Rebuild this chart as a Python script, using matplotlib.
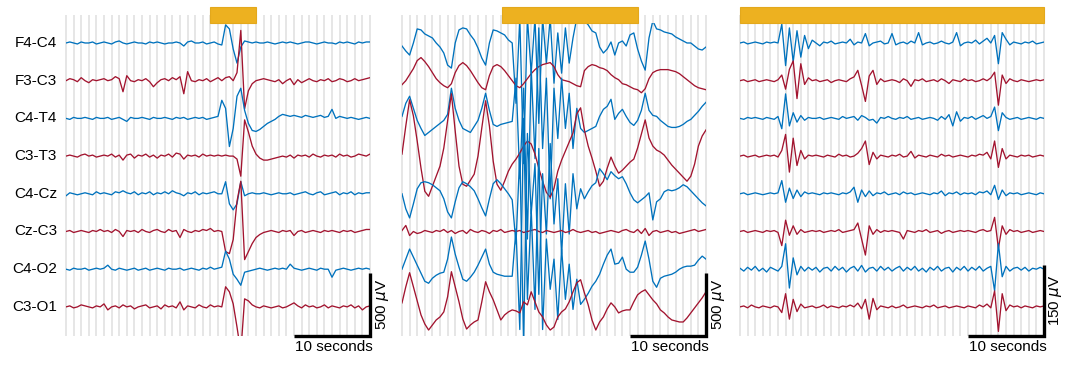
import numpy as np
import matplotlib.pyplot as plt
from matplotlib.patches import Rectangle

plt.rcParams['font.family'] = ['Liberation Sans', 'DejaVu Sans']

channels = ['F4-C4', 'F3-C3', 'C4-T4', 'C3-T3', 'C4-Cz', 'Cz-C3', 'C4-O2', 'C3-O1']
dt = 0.5  # seconds between samples, 40 s per panel

# ---- panel 1 (uV) ----
p1_f4c4 = [0, 8, 0, -8, 8, 0, 0, 8, -8, 0,
           8, 0, -8, 8, 16, 0, -8, 0, 8, 0,
           0, -8, 8, 0, 8, 0, -8, 0, 0, 8,
           0, -24, 8, 16, 0, 0, 8, -8, 0, 8,
           -8, -16, 144, 112, -48, -160, -32, 16, 8, 0,
           8, 0, 0, 8, 0, -8, 0, 8, 0, 8,
           0, -8, 0, 8, 8, 0, -8, 0, 8, 0,
           0, -8, 8, 0, 8, 0, -8, 8, 0, 8,
           8]
p1_f3c3 = [0, 16, 8, -8, 24, 0, -16, 8, 0, 8,
           16, 0, 8, 32, 16, -88, 40, 0, -8, 8,
           0, 16, -8, -48, -16, 8, 16, 0, 24, 8,
           32, -104, 72, 0, -8, 8, 0, 16, -8, 8,
           24, 0, 24, 32, 0, 64, 400, -224, -80, -24,
           0, 8, 16, 8, 0, -8, 8, -24, 0, 16,
           -32, 8, -16, 0, 16, 0, -8, 8, 0, 16,
           -8, 0, 16, 8, -8, 0, 16, 0, 8, 16,
           24]
p1_c4t4 = [0, -8, 8, 0, 0, 8, 0, -8, 8, 0,
           0, 8, -8, 0, 8, -8, -24, 8, 0, 0,
           8, 0, -8, 8, 0, 0, 8, 0, -8, 8,
           0, 8, -8, 0, 8, 0, 8, -8, 0, 8,
           16, 144, 80, -224, -80, 176, 240, 64, -40, -96,
           -104, -88, -64, -40, -24, -8, 16, 32, 24, 16,
           24, 16, 8, 24, 16, 8, 16, 24, 8, 16,
           72, 0, 16, 8, 0, 8, 0, -8, 0, 8,
           0]
p1_c3t3 = [0, 8, 0, -8, 8, 16, 0, 8, -8, 0,
           8, 0, 16, -8, 8, -32, 8, 16, -16, 8,
           0, 16, -8, 8, -16, 8, 0, 16, -8, 24,
           16, -24, 8, 0, 8, -8, 16, 0, 8, 0,
           8, 0, 8, 0, 0, -24, -160, 288, 192, 80,
           16, -16, -32, -32, -24, -16, -8, 0, -8, 8,
           -16, 8, 0, 8, -8, 16, 0, -8, 8, 0,
           8, -8, 16, 0, 8, -8, 0, 16, 8, 0,
           16]
p1_c4cz = [-16, 8, 0, -8, 0, 8, 0, -8, 16, 0,
           8, 0, -8, 16, 8, 24, 8, 0, 16, -8,
           8, 0, 16, -8, 8, 0, 16, 0, 24, 8,
           0, -16, 8, 0, 16, -8, 8, 0, 8, 16,
           0, 0, 96, -80, -128, -80, 96, -16, 0, 8,
           0, 0, 8, 0, -8, 0, 8, 0, 0, 8,
           -8, 0, 8, 16, 0, -8, 8, 16, -8, 0,
           8, 16, -8, 8, 0, 16, -8, 8, 0, 8,
           8]
p1_czc3 = [0, 8, -8, 0, 8, 0, -8, 8, 0, 16,
           0, 8, -8, 16, 0, -40, 8, 0, 8, -8,
           16, 0, -8, 8, 16, 0, -8, 16, 0, 8,
           -48, 16, 0, -8, 8, 0, 16, 8, 24, 0,
           8, 0, -160, -176, -64, 240, 400, -224, -160, -96,
           -48, -24, -8, 0, 8, 0, -8, 8, 0, 8,
           -32, 0, 8, -8, 0, 8, 0, -8, 8, 0,
           8, 0, -8, 8, 0, 8, -8, 0, 8, 16,
           16]
p1_c4o2 = [0, -8, 8, 0, 0, 8, -8, 0, 8, 0,
           8, 32, 0, -8, 8, 0, -8, 0, 8, -8,
           0, 8, -8, 0, 8, 0, -8, 8, 0, 0,
           8, -8, 0, 8, 0, -8, 8, 0, 16, 0,
           8, 16, 144, 80, -40, -80, -128, -24, -16, -8,
           0, 8, 0, -8, 0, 8, 0, 8, 0, 40,
           8, 0, -8, 0, 8, 0, -8, 8, 0, 0,
           -64, -8, 0, 8, 0, -8, 0, 8, 0, 8,
           0]
p1_c3o1 = [0, 8, -8, 0, 16, 8, 0, -8, 8, 0,
           24, -24, 0, 8, -8, 16, 0, 8, -16, 0,
           8, 16, -8, 0, 8, -16, 16, 0, 8, -8,
           40, -24, 8, 0, -8, 16, 0, -8, 16, 0,
           8, 0, 160, 120, 24, -160, -360, 64, 48, 16,
           0, -8, 8, 0, -8, 0, 8, -8, 0, 16,
           32, 8, -8, 16, 0, 8, -8, 0, 16, -8,
           8, 0, -8, 8, 0, 16, -8, 8, -24, 0,
           8]

# ---- panel 2 (uV) ----
p2_f4c4 = [-24, -64, -96, 0, 112, 104, 72, 56, 40, 0,
           -32, -80, -176, -200, 0, 104, 120, 112, 64, 24,
           -40, -120, -176, 0, 104, 96, 80, 64, 24, 0,
           -480, 200, -960, 200, -240, 200, -640, 200, -160, 200,
           -320, 80, -240, 120, -160, 40, 200, 200, 176, 144,
           96, 80, -32, -80, -48, 8, -96, 0, 16, -24,
           64, 80, -48, -144, -216, 40, 176, 112, 104, 88,
           80, 72, 48, 32, 16, 0, 0, -24, -48, -56,
           -32]
p2_f3c3 = [-32, 0, 48, 96, 160, 184, 152, 112, 64, 16,
           -16, -40, -56, -24, 64, 120, 144, 120, 80, 32,
           -16, -56, -72, 40, 112, 128, 112, 80, 40, 0,
           -40, -56, -24, 16, 56, 88, 112, 128, 136, 144,
           112, 48, 8, 0, -8, -24, -40, -48, 80, 112,
           128, 120, 104, 96, 80, 48, 24, 8, -24, -32,
           -48, -64, -72, -96, -64, 16, 64, 80, 88, 88,
           88, 80, 72, 56, 32, 8, -16, -40, -56, -64,
           -72]
p2_c4t4 = [16, 120, 176, 80, -16, -80, -136, -112, -88, -64,
           -40, -16, 32, 240, 80, -16, -80, -96, -112, -64,
           -16, 80, 200, 64, -48, -64, -48, -40, -32, -24,
           320, -480, 240, -960, 400, -320, 720, -240, 320, -640,
           240, -160, 320, -80, 200, -240, 80, -80, -112, -96,
           -80, -64, 16, 72, 96, 152, -8, 40, 72, 16,
           -32, -56, -16, 64, 200, 64, 24, 16, -16, -40,
           -64, -72, -72, -64, -48, -24, -8, 24, 56, 96,
           128]
p2_c3t3 = [16, 240, 448, 320, 120, -96, -280, -320, -240, -160,
           -80, 64, 280, 496, 200, -80, -224, -240, -192, -144,
           0, 224, 440, 240, -40, -224, -272, -200, -120, -64,
           -24, 24, 80, 120, 96, 16, -96, -200, -288, -328,
           -256, -120, -32, 40, 112, 184, 336, 384, 208, 80,
           -16, -120, -240, -200, -96, -8, -80, -136, -112, -80,
           -48, -24, 64, 176, 288, 144, 80, 48, 32, 8,
           -32, -72, -104, -136, -168, -200, -160, -64, 80, 160,
           208]
p2_c4cz = [0, -120, -192, -80, 40, 88, 96, 88, 72, 48,
           24, -40, -144, -192, -64, 48, 96, 80, 56, 24,
           -40, -112, -176, -40, 80, 112, 80, 40, 0, -48,
           -400, 320, -1200, 480, -160, 240, -800, 160, -320, 400,
           -240, 120, -480, 80, -320, 160, -120, 40, -40, 16,
           64, 88, 200, 160, 112, 176, 144, 120, 136, 80,
           8, -48, -72, -48, -24, 8, -208, -64, -40, 16,
           32, 24, 32, 48, 72, 56, 24, -8, -40, -72,
           -96]
p2_czc3 = [8, 48, -32, 0, -16, -8, 8, 0, -8, 8,
           0, 16, -8, 8, -16, 0, 8, -16, 16, 0,
           -8, 8, 0, -16, 8, 0, 16, -8, 0, 8,
           0, 8, -8, 0, 8, 16, 0, -8, 8, 0,
           -8, 0, 8, -8, 0, 16, 0, -8, 0, 8,
           -8, 0, -16, -8, 0, 8, 0, -8, 8, 16,
           0, -8, 16, -16, 24, -32, 0, 8, -8, 0,
           8, -8, 0, -16, -8, 0, 8, 16, 0, 8,
           16]
p2_c4o2 = [0, 80, 160, 96, 32, -32, -96, -112, -72, -48,
           -32, -24, 80, 256, 120, 16, -80, -96, -64, -24,
           32, 96, 160, 40, -24, -40, -48, -56, -56, -56,
           320, -480, 1200, -240, 480, -320, 960, -480, 240, -160,
           80, -400, 160, -240, 40, -320, -80, -280, -240, -192,
           -136, -96, -40, 40, 112, 160, 40, 48, 96, 0,
           -24, -24, 16, 112, 224, 80, -96, -144, -72, -56,
           -48, -40, -24, 0, 16, 24, 24, 32, 72, 104,
           80]
p2_c3o1 = [32, 160, 272, 160, 48, -64, -136, -184, -144, -104,
           -80, -40, 80, 280, 160, 40, -96, -176, -144, -120,
           -104, 40, 200, 120, 56, -24, -104, -64, -40, -24,
           -32, -48, 40, 16, 120, 40, -40, -80, -144, -184,
           -160, -80, -40, -16, 40, 120, 192, 216, 112, 16,
           -104, -184, -120, -80, -16, 32, 0, -48, -32, -24,
           -24, 40, 96, 120, 136, 96, 56, 24, -24, -48,
           -80, -104, -112, -120, -120, -88, -48, -8, 32, 72,
           120]

# ---- panel 3 (uV) ----
p3_f4c4 = [0, 2, -2, 0, 2, 0, -2, 2, 0, 2,
           0, 40, -48, 32, -40, 26, -30, 16, -12, 6,
           0, -6, 2, 0, 4, -2, 0, 2, 0, 8,
           -4, 2, 0, 20, -6, 0, 2, 4, -2, 0,
           20, -4, 0, 2, -2, 4, 0, 22, -4, 0,
           2, -2, 0, 4, 0, -2, 2, 22, -6, 0,
           2, 0, 6, -2, 4, 10, 0, 16, -44, 22,
           8, -4, 2, 0, -2, 2, 0, 4, -2, 0,
           2]
p3_f3c3 = [0, 2, -2, 0, 2, -2, 0, 2, 0, -2,
           2, 12, -18, 24, 42, -38, 36, -8, 6, 0,
           2, -2, 0, 2, -4, 0, 2, 0, -2, 4,
           8, 22, -10, -44, 10, 22, -8, 4, -2, 0,
           2, 0, -4, 4, 0, -12, 2, 0, 4, -2,
           0, 2, -2, 4, 0, -6, 2, 0, -2, 4,
           0, 2, -2, 0, 4, 0, 6, 18, -52, 12,
           -6, 4, 0, -2, 2, 0, -2, 0, 2, 0,
           2]
p3_c4t4 = [0, -2, 2, 0, 2, 0, -2, 2, 0, -2,
           4, -22, 52, -16, 12, -8, 6, -4, 2, 0,
           0, 2, -2, 0, 2, 0, -2, 4, 0, 2,
           4, -4, 6, 2, -4, -2, -10, 2, 0, 4,
           0, -2, 2, 0, 4, -2, 0, 2, -2, 0,
           2, 0, -4, 4, -2, 8, -16, 14, -6, 2,
           0, 4, -2, 2, 6, 0, 4, 24, -26, 12,
           2, -2, 0, 2, -2, 0, 2, 0, -2, 2,
           0]
p3_c3t3 = [0, 2, -2, 0, 2, -2, 0, 2, 0, 2,
           -2, 12, 46, -34, 38, -20, 12, -6, 2, 0,
           2, 0, -2, 2, 0, -2, 4, 0, 2, -2,
           0, 6, 16, 32, -18, 8, -6, 2, 0, -2,
           2, 0, 4, -2, 0, 10, -4, 2, 0, -2,
           2, 0, -2, 4, 0, 2, -2, 0, 2, 0,
           -2, 2, 0, 4, 2, 8, -6, 32, -24, 16,
           -6, 2, 0, -2, 2, 0, 2, -2, 0, 2,
           0]
p3_c4cz = [0, 2, -2, 0, 2, 0, -2, 0, 2, 0,
           2, 28, -18, 12, -10, 8, -6, 4, 0, 2,
           0, -2, 2, 0, 2, 0, -2, 2, 0, 4,
           14, -18, 8, -6, 6, -4, 2, 0, 4, -2,
           0, 2, -2, 4, 0, 2, -2, 0, 2, 0,
           -2, 2, 0, 6, -4, 2, 0, 4, -2, 2,
           0, 2, -2, 4, 2, 6, -2, 18, -12, 8,
           -4, 2, 0, 2, -2, 0, 2, 0, -2, 2,
           0]
p3_czc3 = [0, 2, -2, 0, 2, 0, -2, 2, 0, 2,
           -2, -30, 24, -8, 12, -6, 4, -2, 0, 2,
           0, 2, -2, 0, 2, 0, 4, -2, 0, 2,
           4, 18, -16, -50, 12, -6, 4, -2, 2, 0,
           2, 0, -2, -16, 2, 0, -2, 2, 0, 4,
           -2, 0, 2, -4, 0, 2, -2, 0, 2, 0,
           2, 0, -2, 2, 4, 0, 2, 30, -36, 12,
           -6, 4, 0, 2, -2, 0, 2, -2, 0, 2,
           0]
p3_c4o2 = [2, -4, 4, -2, 6, -4, 2, -6, 4, 0,
           -4, 6, 54, -40, 24, -12, 6, -4, 4, -2,
           4, -6, 2, 4, -4, 6, -2, 4, -6, 2,
           6, -4, 8, -6, 2, 4, -4, 6, -2, 4,
           -4, 2, 6, -4, 4, -2, 6, -4, 2, -6,
           4, -2, 6, -4, 2, 4, -6, 4, -2, 6,
           -4, 4, -2, 6, -4, 2, 6, -46, 54, -16,
           6, -4, 2, 4, -2, 4, -4, 2, 0, 4,
           0]
p3_c3o1 = [0, 2, -2, 4, 0, -2, 2, 0, -2, 2,
           0, -12, 28, -26, 16, -10, 6, -2, 0, 2,
           -2, 0, 4, -2, 2, 0, -2, 2, 0, 4,
           0, 8, -4, 16, -26, 18, -6, 2, 0, -2,
           2, -2, 0, 4, -2, 0, 2, 0, -2, 2,
           0, 4, -2, 0, 2, -2, 0, 2, 0, -2,
           2, 0, -2, 4, 0, 6, -2, 34, -52, 28,
           -8, 4, 0, 2, -2, 2, 0, -2, 2, 0,
           2]

panel1 = [p1_f4c4, p1_f3c3, p1_c4t4, p1_c3t3, p1_c4cz, p1_czc3, p1_c4o2, p1_c3o1]
panel2 = [p2_f4c4, p2_f3c3, p2_c4t4, p2_c3t3, p2_c4cz, p2_czc3, p2_c4o2, p2_c3o1]
panel3 = [p3_f4c4, p3_f3c3, p3_c4t4, p3_c3t3, p3_c4cz, p3_czc3, p3_c4o2, p3_c3o1]

spacing_uv = [300, 300, 80]        # distance between channel baselines
scale_uv = [500, 500, 150]         # vertical scale bar
stim = [(18.9, 25.0), (13.1, 31.1), (0.0, 40.0)]  # orange bar, seconds

blue = '#0072BD'
red = '#A2142F'
orange = '#EDB120'

fig = plt.figure(figsize=(10.67, 3.66), dpi=100)
W, H = 1067, 366
lefts = [66, 402, 740]

for p, traces in enumerate([panel1, panel2, panel3]):
    S = spacing_uv[p]
    ax = fig.add_axes([lefts[p] / W, 30 / H, 304 / W, 313.3 / H])
    ybot, ytop = -7.772 * S, 0.538 * S
    ax.set_xlim(0, 40)
    ax.set_ylim(ybot, ytop)
    ax.axis('off')

    # light vertical grid, one line per second
    ax.vlines(np.arange(0, 41), ybot, 0.743 * S, colors='#e4e4e4',
              lw=1.3, zorder=0, clip_on=False)

    for k, vals in enumerate(traces):
        t = np.arange(len(vals)) * dt
        ax.plot(t, np.array(vals) - k * S, color=blue if k % 2 == 0 else red,
                lw=0.95, zorder=2)

    t0, t1 = stim[p]
    ax.add_patch(Rectangle((t0, ytop), t1 - t0, 0.425 * S, facecolor=orange,
                           edgecolor='#E3A81C', lw=0.8, clip_on=False, zorder=5))

    # scale bars
    ax.plot([30, 40, 40], [ybot, ybot, ybot + scale_uv[p]], color='black',
            lw=2.4, solid_joinstyle='miter', solid_capstyle='butt',
            clip_on=False, zorder=6)
    ax.annotate('10 seconds', xy=(35, ybot), xytext=(2, -4),
                textcoords='offset pixels', ha='center', va='top', fontsize=11)
    ax.annotate(f'{scale_uv[p]} $\\mu$V', xy=(40, ybot + scale_uv[p] / 2),
                xytext=(12, 0), textcoords='offset pixels', rotation=90,
                ha='center', va='center', fontsize=11)

    if p == 0:
        for k, name in enumerate(channels):
            ax.annotate(name, xy=(0, -k * S), xytext=(-9, 0),
                        textcoords='offset pixels', ha='right', va='center',
                        fontsize=11)

fig.savefig('out.png', dpi=100)
